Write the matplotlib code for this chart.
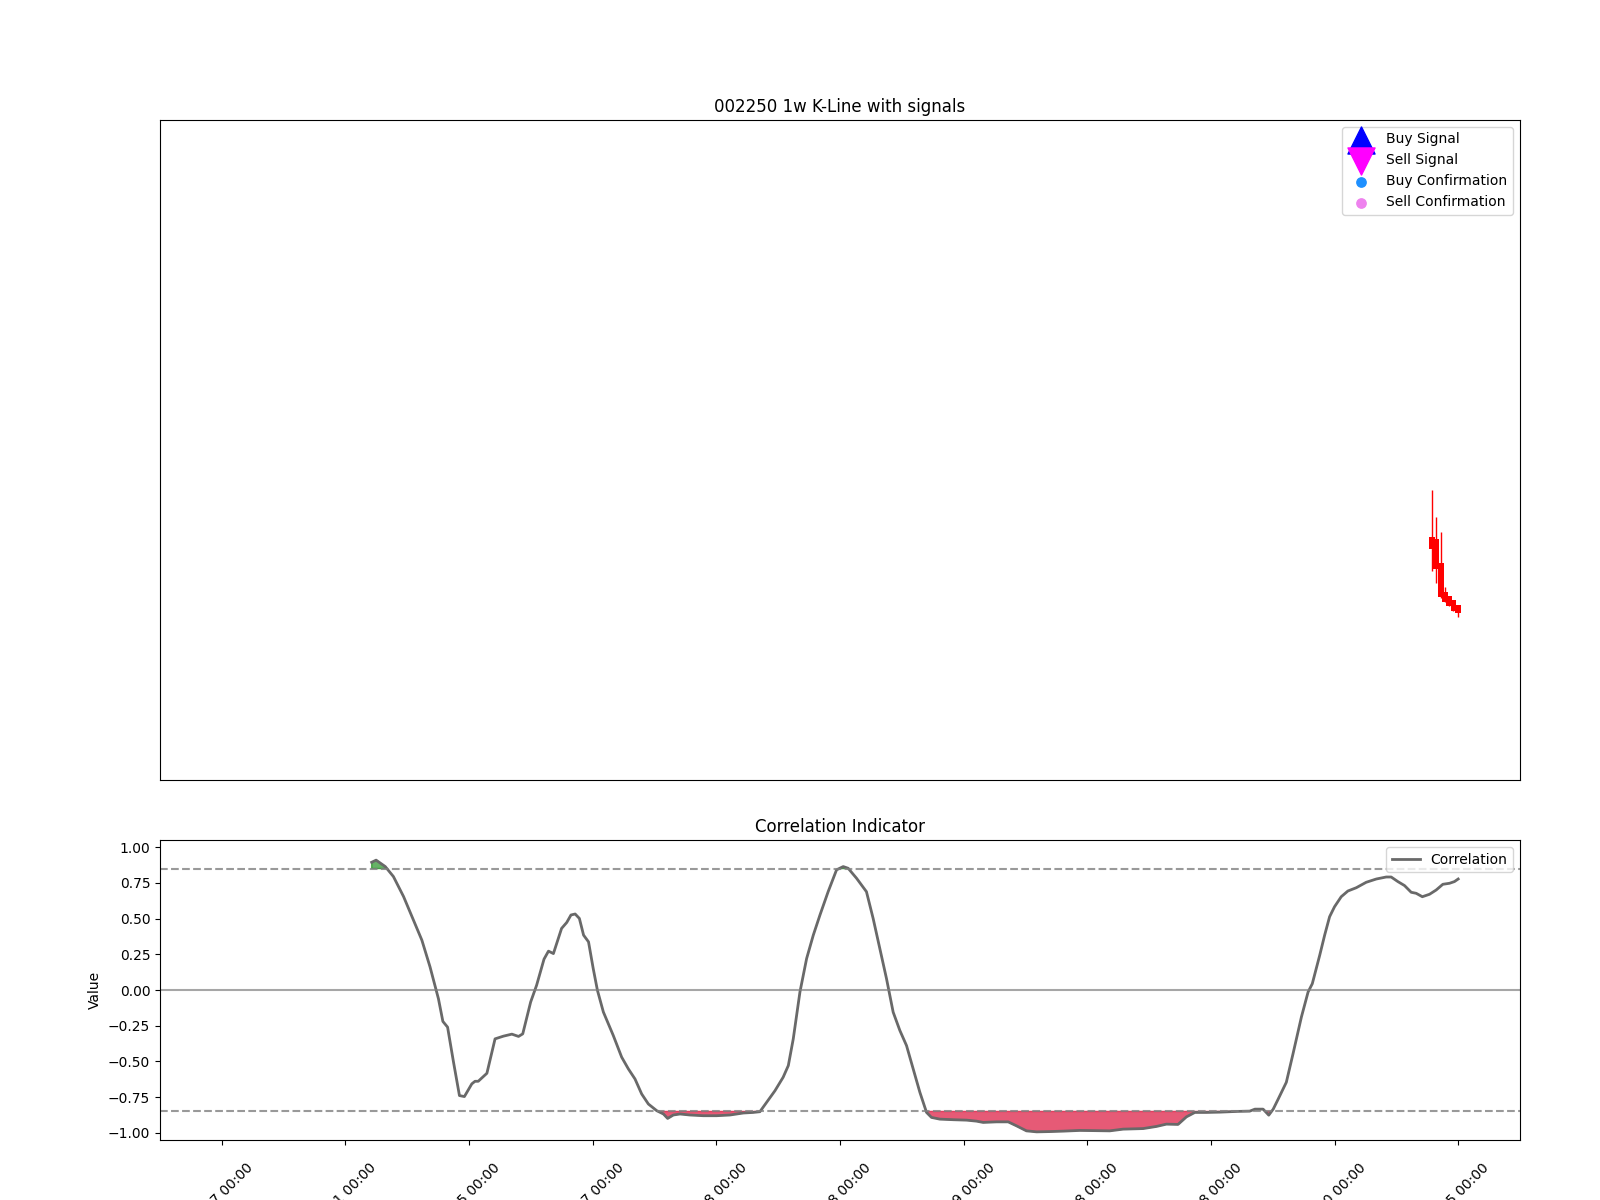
import numpy as np
import matplotlib
matplotlib.use("Agg")
import matplotlib.pyplot as plt
import matplotlib.transforms as mtransforms

# weekly K-line (last few bars only, the rest of the window is empty)
candle_x = [489.4, 491.0, 493.0, 494.6, 496.2, 498.1, 499.9]
open_p = [6.685, 6.655, 6.281, 5.852, 5.786, 5.720, 5.645]
close_p = [6.504, 6.190, 5.777, 5.701, 5.634, 5.558, 5.534]
high_p = [7.391, 6.982, 6.761, 5.928, 5.786, 5.720, 5.645]
low_p = [6.164, 5.978, 5.760, 5.701, 5.634, 5.558, 5.467]

# signals (none triggered in this window)
buy_x, buy_y = [], []
sell_x, sell_y = [], []
buy_conf_x, buy_conf_y = [], []
sell_conf_x, sell_conf_y = [], []

# correlation indicator
corr_x = [60.6, 62.4, 66.1, 69.4, 73.5, 77.5, 80.9, 84.2, 87.6, 89.4, 91.3, 93.7,
          96.1, 98.1, 101.1, 102.4, 103.7, 107.2, 110.5, 113.9, 117.3, 120.0,
          121.7, 124.9, 127.3, 130.3, 132.1, 134.1, 137.4, 139.5, 141.2, 142.9,
          144.6, 146.3, 148.3, 150.2, 151.9, 154.3, 158.3, 161.7, 164.4, 167.1,
          169.8, 172.5, 175.9, 178.6, 180.3, 182.6, 185.3, 189.3, 194.7, 200.1,
          205.5, 210.9, 214.9, 217.6, 220.3, 223.7, 227.0, 229.1, 231.1, 233.8,
          236.5, 239.2, 241.9, 245.2, 248.6, 251.3, 253.3, 256.7, 260.7, 263.4,
          266.1, 268.8, 271.5, 274.2, 276.9, 279.6, 282.3, 285.0, 287.0, 290.4,
          295.8, 301.2, 305.2, 307.9, 313.3, 318.0, 321.4, 325.4, 329.5, 334.9,
          340.2, 347.0, 359.1, 364.5, 372.6, 378.0, 382.0, 386.7, 390.1, 393.5,
          398.2, 403.6, 410.4, 415.7, 417.8, 421.1, 423.4, 425.2, 427.2, 430.5,
          433.2, 436.6, 439.3, 441.0, 444.0, 446.0, 448.0, 450.0, 452.7, 455.4,
          458.8, 462.8, 466.9, 470.9, 472.9, 475.6, 478.3, 481.0, 483.0, 485.5,
          488.4, 491.1, 493.8, 496.5, 498.5, 500.0]
corr_y = [0.894, 0.909, 0.864, 0.794, 0.654, 0.489, 0.349, 0.162, -0.061, -0.220,
          -0.260, -0.505, -0.739, -0.746, -0.657, -0.639, -0.639, -0.583, -0.342,
          -0.323, -0.309, -0.325, -0.307, -0.084, 0.033, 0.216, 0.272, 0.255,
          0.431, 0.473, 0.525, 0.532, 0.501, 0.384, 0.337, 0.150, -0.002, -0.154,
          -0.318, -0.470, -0.552, -0.623, -0.728, -0.798, -0.845, -0.868, -0.899,
          -0.875, -0.868, -0.875, -0.880, -0.880, -0.875, -0.861, -0.857, -0.852,
          -0.787, -0.705, -0.611, -0.529, -0.342, -0.014, 0.220, 0.384, 0.525,
          0.688, 0.841, 0.864, 0.852, 0.782, 0.688, 0.501, 0.290, 0.080, -0.155,
          -0.283, -0.389, -0.552, -0.716, -0.857, -0.892, -0.904, -0.908, -0.911,
          -0.918, -0.927, -0.923, -0.923, -0.951, -0.986, -0.993, -0.991, -0.988,
          -0.983, -0.986, -0.974, -0.970, -0.955, -0.939, -0.941, -0.888, -0.857,
          -0.857, -0.855, -0.850, -0.848, -0.834, -0.834, -0.876, -0.834, -0.764,
          -0.646, -0.447, -0.189, -0.014, 0.044, 0.243, 0.384, 0.513, 0.583,
          0.653, 0.693, 0.716, 0.754, 0.777, 0.791, 0.791, 0.759, 0.731, 0.684,
          0.677, 0.653, 0.670, 0.700, 0.740, 0.747, 0.759, 0.777]

tick_pos = [0, 50, 100, 150, 200, 250, 300, 350, 400, 450, 500]
tick_labels = ["2015-07-17 00:00", "2016-07-21 00:00", "2017-07-25 00:00",
               "2018-07-27 00:00", "2019-07-28 00:00", "2020-07-28 00:00",
               "2021-07-29 00:00", "2022-07-28 00:00", "2023-07-28 00:00",
               "2024-07-30 00:00", "2025-07-25 00:00"]

upper, lower = 0.85, -0.85


def main():
    fig = plt.figure(figsize=(16, 12), dpi=100)
    ax1 = fig.add_axes([0.1, 0.35, 0.85, 0.55])
    ax2 = fig.add_axes([0.1, 0.05, 0.85, 0.25])

    # candles
    o = np.array(open_p)
    c = np.array(close_p)
    ax1.vlines(candle_x, low_p, high_p, color="red", linewidth=1)
    ax1.bar(candle_x, np.abs(c - o), bottom=np.minimum(o, c), width=2.2, color="red")

    ax1.scatter(buy_x, buy_y, marker="^", color="blue", s=380, label="Buy Signal")
    ax1.scatter(sell_x, sell_y, marker="v", color="magenta", s=380, label="Sell Signal")
    ax1.scatter(buy_conf_x, buy_conf_y, marker="o", color="dodgerblue", s=45,
                label="Buy Confirmation")
    ax1.scatter(sell_conf_x, sell_conf_y, marker="o", color="violet", s=45,
                label="Sell Confirmation")
    ax1.set_xlim(-25, 525)
    ax1.set_ylim(3, 13)
    ax1.set_xticks([])
    ax1.set_yticks([])
    ax1.set_title("002250 1w K-Line with signals")
    ax1.legend(loc="upper right")

    # correlation
    x = np.array(corr_x)
    y = np.array(corr_y)
    ax2.plot(x, y, color="dimgray", linewidth=2, label="Correlation")
    ax2.axhline(upper, color="gray", linestyle="--", alpha=0.8)
    ax2.axhline(lower, color="gray", linestyle="--", alpha=0.8)
    ax2.axhline(0, color="gray", linestyle="-", alpha=0.7)
    ax2.fill_between(x, y, upper, where=y >= upper, interpolate=True,
                     color="green", alpha=0.6)
    ax2.fill_between(x, y, lower, where=y <= lower, interpolate=True,
                     color="crimson", alpha=0.7)
    ax2.set_xlim(-25, 525)
    ax2.set_ylim(-1.05, 1.05)
    ax2.set_title("Correlation Indicator")
    ax2.set_ylabel("Value")
    ax2.set_xticks(tick_pos)
    ax2.set_xticklabels(tick_labels, rotation=45)
    # labels sit a bit lower-left in the original
    shift = mtransforms.ScaledTranslation(-15 / 100, -11 / 100, fig.dpi_scale_trans)
    for lbl in ax2.get_xticklabels():
        lbl.set_transform(lbl.get_transform() + shift)
    ax2.legend(loc="upper right")

    fig.savefig("out.png", dpi=100)


if __name__ == "__main__":
    main()
